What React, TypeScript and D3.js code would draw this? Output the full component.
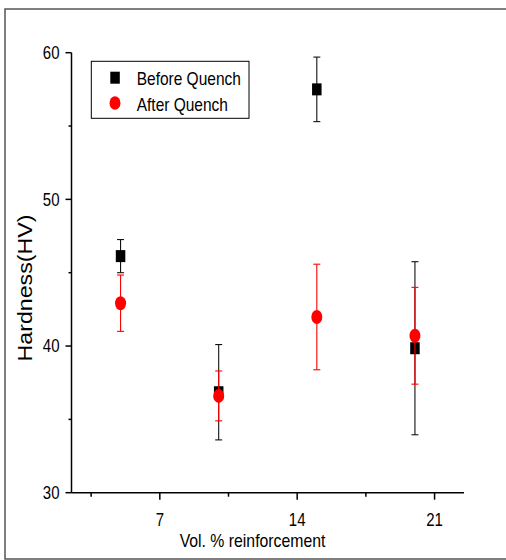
import React from "react";
import * as d3 from "d3";

// Hardness before and after quenching vs. reinforcement content
const volPercent = [5, 10, 15, 20];
const beforeQuench = [46.13, 36.85, 57.5, 39.85];
const beforeErr = [1.13, 3.25, 2.2, 5.9];
const afterQuench = [42.92, 36.6, 41.98, 40.7];
const afterErr = [1.92, 1.7, 3.6, 3.3];

const xMajorTicks = [7, 14, 21];
const xMinorTicks = [3.5, 10.5, 17.5];
const yMajorTicks = [30, 40, 50, 60];
const yMinorTicks = [35, 45, 55];

const seriesNames = ["Before Quench", "After Quench"];
const xTitle = "Vol. % reinforcement";
const yTitle = "Hardness(HV)";

const W = 506;
const H = 560;
const SY = 1.19; // vertical text stretch
const FONT = "Liberation Sans, Arial, sans-serif";

const x = d3.scaleLinear().domain([2.5, 22.5]).range([71.5, 464]);
const y = d3.scaleLinear().domain([30, 60]).range([492.7, 52.7]);

function STxt({ x: tx, y: ty, size, anchor = "start", children, rotate = false }: any) {
  const transform = rotate
    ? `translate(${tx},${ty}) rotate(-90) scale(${SY},1)`
    : `translate(${tx},${ty}) scale(1,${SY})`;
  return (
    <text
      transform={transform}
      fontFamily={FONT}
      fontSize={size}
      textAnchor={anchor}
      fill="#000"
    >
      {children}
    </text>
  );
}

function ErrorBar({ cx, v, e, color }: any) {
  const top = y(v + e);
  const bot = y(v - e);
  const cap = 3.5;
  return (
    <g stroke={color} strokeWidth={1.1} fill="none">
      <line x1={cx} x2={cx} y1={top} y2={bot} />
      <line x1={cx - cap} x2={cx + cap} y1={top} y2={top} />
      <line x1={cx - cap} x2={cx + cap} y1={bot} y2={bot} />
    </g>
  );
}

export default function App() {
  const x0 = x.range()[0];
  const x1 = x.range()[1];
  const yBase = y(30);
  const yTop = y(60);
  return (
    <svg
      width={W}
      height={H}
      style={{ position: "absolute", left: 0, top: 0, background: "#fff" }}
    >
      {/* outer frame */}
      <rect x={5} y={9} width={520} height={550} fill="none" stroke="#555" strokeWidth={1.5} />

      {/* axes */}
      <g stroke="#000" strokeWidth={1.5} fill="none">
        <line x1={x0} x2={x0} y1={yTop} y2={yBase} />
        <line x1={x0} x2={x1} y1={yBase} y2={yBase} />
        {yMajorTicks.map((t) => (
          <line key={"ym" + t} x1={x0 - 6} x2={x0} y1={y(t)} y2={y(t)} />
        ))}
        {yMinorTicks.map((t) => (
          <line key={"yn" + t} x1={x0 - 3} x2={x0} y1={y(t)} y2={y(t)} />
        ))}
        {xMajorTicks.map((t) => (
          <line key={"xm" + t} x1={x(t)} x2={x(t)} y1={yBase} y2={yBase + 7} />
        ))}
        {xMinorTicks.map((t) => (
          <line key={"xn" + t} x1={x(t)} x2={x(t)} y1={yBase} y2={yBase + 4} />
        ))}
      </g>

      {yMajorTicks.map((t) => (
        <STxt key={"yl" + t} x={59.5} y={y(t) + 6.3} size={15} anchor="end">
          {t}
        </STxt>
      ))}
      {xMajorTicks.map((t) => (
        <STxt key={"xl" + t} x={x(t)} y={526} size={15} anchor="middle">
          {t}
        </STxt>
      ))}

      <STxt x={252.5} y={547.3} size={15.8} anchor="middle">
        {xTitle}
      </STxt>
      <STxt x={32} y={288} size={19.5} anchor="middle" rotate>
        {yTitle}
      </STxt>

      {/* before quench */}
      {volPercent.map((v, i) => (
        <ErrorBar key={"be" + i} cx={x(v)} v={beforeQuench[i]} e={beforeErr[i]} color="#111" />
      ))}
      {volPercent.map((v, i) => (
        <rect
          key={"bm" + i}
          x={x(v) - 4.75}
          y={y(beforeQuench[i]) - 6}
          width={9.5}
          height={12}
          fill="#000"
        />
      ))}

      {/* after quench */}
      {volPercent.map((v, i) => (
        <ErrorBar key={"ae" + i} cx={x(v)} v={afterQuench[i]} e={afterErr[i]} color="#f00" />
      ))}
      {volPercent.map((v, i) => (
        <ellipse key={"am" + i} cx={x(v)} cy={y(afterQuench[i])} rx={5.5} ry={7} fill="#f00" />
      ))}

      {/* legend */}
      <rect x={91.3} y={61.3} width={157.7} height={57} fill="#fff" stroke="#000" strokeWidth={1} />
      <rect x={110.3} y={71.7} width={9.5} height={12} fill="#000" />
      <ellipse cx={115} cy={103} rx={5.5} ry={6.8} fill="#f00" />
      <STxt x={136.7} y={85} size={15.5}>
        {seriesNames[0]}
      </STxt>
      <STxt x={136.7} y={110.5} size={15.5}>
        {seriesNames[1]}
      </STxt>
    </svg>
  );
}
